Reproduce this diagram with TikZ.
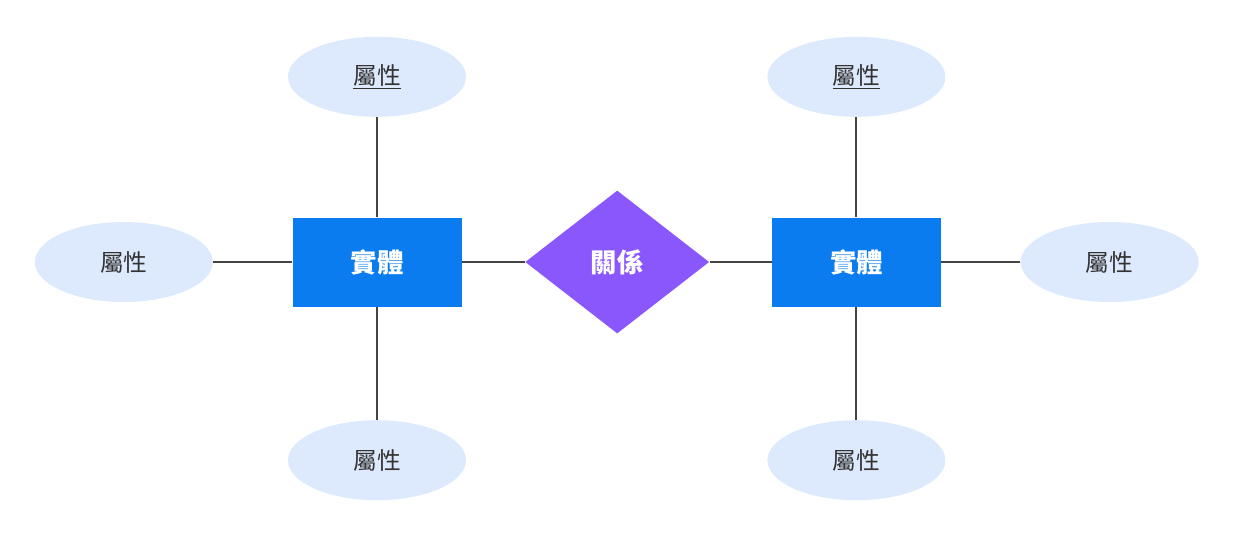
\documentclass[tikz,border=0pt]{standalone}
\usepackage{fontspec}
\newfontfamily\cjk{Noto Sans CJK TC}
\usetikzlibrary{positioning,shapes.geometric}
\definecolor{ERblue}{HTML}{0A7CEF}
\definecolor{ERpurple}{HTML}{8A57FD}
\definecolor{ERlight}{HTML}{DDE9FC}
\definecolor{ERline}{HTML}{444444}
\definecolor{ERtext}{HTML}{333333}

\begin{document}
\begin{tikzpicture}[
    font=\cjk\fontsize{13.5}{16}\selectfont,
    entity/.style={rectangle, fill=ERblue, text=white, font=\cjk\bfseries\fontsize{15}{18}\selectfont, minimum width=3.38cm, minimum height=1.78cm},
    relation/.style={diamond, fill=ERpurple, text=white, font=\cjk\bfseries\fontsize{15}{18}\selectfont, inner sep=0pt, minimum width=3.68cm, minimum height=2.86cm},
    attr/.style={ellipse, fill=ERlight, text=ERtext, minimum width=3.56cm, minimum height=1.6cm},
    link/.style={draw=ERline, line width=1.2pt}
]
\useasboundingbox (0,0) rectangle (24.66,-10.7);
% --- Entities and relationship ---
\node[entity] (E1) at (7.54,-5.24) {實體};
\node[relation, right=1.26cm of E1] (R) {關係};
\node[entity, right=1.24cm of R] (E2) {實體};
% --- Attributes (left) ---
\node[attr, above=2.0cm of E1] (A1) {\underline{屬性}};
\node[attr, left=1.58cm of E1] (A2) {屬性};
\node[attr, below=2.26cm of E1] (A3) {屬性};
% --- Attributes (right) ---
\node[attr, above=2.0cm of E2] (B1) {\underline{屬性}};
\node[attr, right=1.58cm of E2] (B2) {屬性};
\node[attr, below=2.26cm of E2] (B3) {屬性};
\draw[link] (A1) -- (E1);
\draw[link] (A2) -- (E1);
\draw[link] (A3) -- (E1);
\draw[link] (E1) -- (R);
\draw[link] (R) -- (E2);
\draw[link] (B1) -- (E2);
\draw[link] (B2) -- (E2);
\draw[link] (B3) -- (E2);
\end{tikzpicture}
\end{document}
